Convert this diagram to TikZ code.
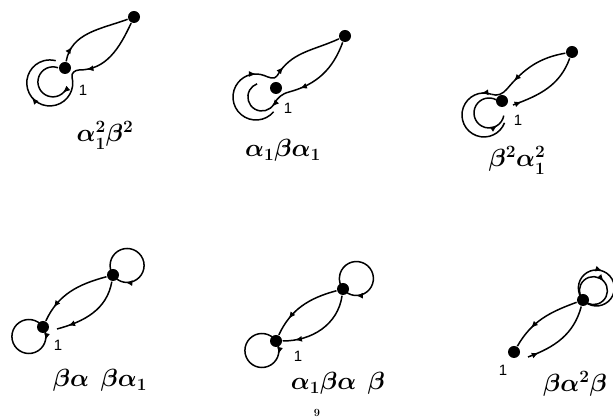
\documentclass[tikz,border=0pt]{standalone}
\usepackage{amsmath,amssymb}
\usepackage{fontspec}
\usepackage{tikz}
\usetikzlibrary{arrows.meta,decorations.markings}
\newfontfamily\labelfont{Liberation Sans}

\begin{document}
\begin{tikzpicture}[x=1pt, y=1pt, line width=1.5pt,
    dot/.style={circle, fill, inner sep=0pt, minimum size=12pt},
    one/.style={font=\labelfont\fontsize{15}{17}\selectfont},
    word/.style={anchor=base, font=\fontsize{23}{27}\selectfont\boldmath},
    arr/.style={postaction={decorate}, decoration={markings, mark=at position #1 with {\arrow{Latex[length=7pt,width=6pt]}}}}]
    \useasboundingbox (0,0) rectangle (613,419);

    % alpha_1^2 beta^2
    \node[dot] (b1) at (134,402) {};
    \node[dot] (a1) at (65,351) {};
    \node[one] (n1) at (83,329) {1};
    \coordinate (s1) at (79,349);
    \coordinate (o1) at (72,342);
    \coordinate (i1) at (67,332);
    \draw[arr=0.2] (a1) to[out=80,in=200] (b1);
    \draw[arr=0.9] (b1) to[out=245,in=0] (s1);
    \draw (s1) to[out=180,in=105] (o1);
    \draw[arr=0.52] (o1) arc[start angle=15,end angle=-285,radius=23];
    \draw[arr=0.1] (i1) arc[start angle=-20,end angle=-290,radius=15];
    \node[word] (w1) at (105,277) {$\alpha_1^2\beta^2$};

    % alpha_1 beta alpha_1
    \node[dot] (b2) at (345,383) {};
    \node[dot] (a2) at (276,331) {};
    \node[one] (n2) at (288,311) {1};
    \coordinate (s2) at (289,327);
    \coordinate (i2) at (274,315);
    \coordinate (o2) at (273.6,307.2);
    \coordinate (u2) at (277,343);
    \draw[arr=0.85] (b2) to[out=250,in=15] (s2);
    \draw (s2) to[out=195,in=60] (i2);
    \draw[arr=0.06] (i2) arc[start angle=-30,end angle=-250,radius=14];
    \draw[arr=0.92] (o2) arc[start angle=-40,end angle=-290,radius=23] coordinate (e2);
    \draw (e2) to[out=-20,in=235] (u2);
    \draw[arr=0.15] (u2) to[out=60,in=205] (b2);
    \node[word] (w2) at (283,262) {$\alpha_1\beta\alpha_1$};

    % beta^2 alpha_1^2
    \node[dot] (b3) at (572,367) {};
    \node[dot] (a3) at (502,318) {};
    \node[one] (n3) at (518,299) {1};
    \coordinate (s3) at (513,314);
    \coordinate (u3) at (507,330);
    \coordinate (o3) at (491.5,324.7);
    \coordinate (i3) at (496.5,319);
    \draw[arr=0.12] (s3) to[out=20,in=250] (b3);
    \draw[arr=0.85] (b3) to[out=190,in=50] (u3);
    \draw (u3) to[out=230,in=-20] (o3);
    \draw[arr=0.1] (o3) arc[start angle=70,end angle=339,radius=22];
    \draw[arr=0.84] (i3) arc[start angle=60,end angle=350,radius=15];
    \node[word] (w3) at (517,252) {$\beta^2\alpha_1^2$};

    % beta alpha beta alpha_1
    \node[dot] (b4) at (113,144) {};
    \node[dot] (a4) at (43,92) {};
    \node[one] (n4) at (58,74) {1};
    \coordinate (s4) at (57,90);
    \draw[arr=0.8] (b4) to[out=195,in=65] (a4);
    \draw[arr=0.85] (b4) to[out=260,in=15] (s4);
    \draw[arr=0.86] (b4.center) arc[start angle=214,delta angle=-360,radius=17];
    \draw[arr=0.13] (a4.center) arc[start angle=34,delta angle=-360,radius=17];
    \node[word] (w4) at (100,32) {$\beta\alpha\enspace\beta\alpha_1$};

    % alpha_1 beta alpha beta
    \node[dot] (b5) at (343,130) {};
    \node[dot] (a5) at (276,78) {};
    \node[one] (n5) at (298,63) {1};
    \draw[arr=0.75] (b5) to[out=195,in=65] (a5);
    \draw[arr=0.85] (b5) to[out=262,in=0] (a5);
    \draw[arr=0.86] (b5.center) arc[start angle=218,delta angle=-360,radius=17];
    \draw[arr=0.13] (a5.center) arc[start angle=34,delta angle=-360,radius=17];
    \node[word] (w5) at (338,29) {$\alpha_1\beta\alpha\enspace\beta$};
    \node[font=\bfseries\fontsize{11}{13}\selectfont] (pg) at (317,6) {9};

    % beta alpha^2 beta
    \node[dot] (b6) at (583,119) {};
    \node[dot] (a6) at (514,67) {};
    \node[one] (n6) at (503,49) {1};
    \coordinate (s6) at (528,62);
    \draw[arr=0.7] (b6) to[out=200,in=60] (a6);
    \draw[arr=0.15] (s6) to[out=20,in=255] (b6);
    \draw[arr=0.42] (b6.center) arc[start angle=222,delta angle=-360,radius=18];
    \draw[arr=0.5] (b6.center) arc[start angle=222,delta angle=-360,radius=14];
    \node[word] (w6) at (575,27) {$\beta\alpha^2\beta$};
\end{tikzpicture}
\end{document}
